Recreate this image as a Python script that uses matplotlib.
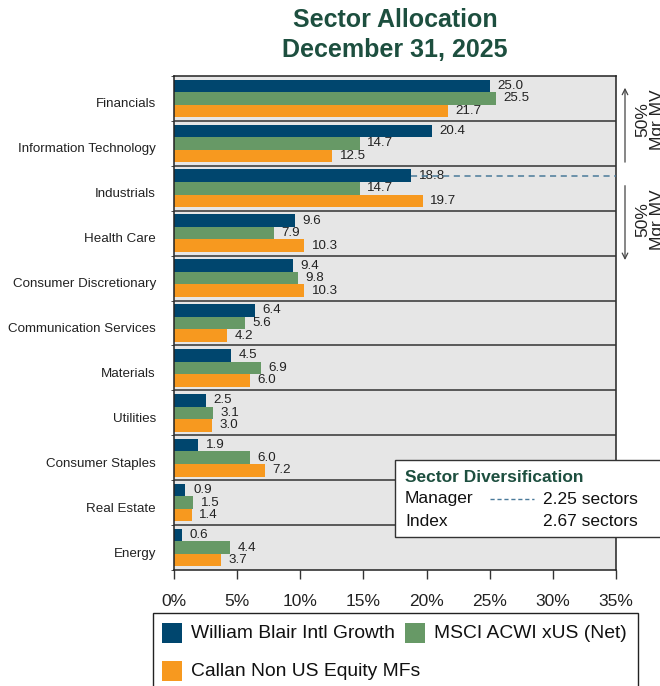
import matplotlib.pyplot as plt
import numpy as np
from matplotlib.patches import Rectangle
from matplotlib.lines import Line2D

sectors = ["Financials", "Information Technology", "Industrials", "Health Care",
           "Consumer Discretionary", "Communication Services", "Materials",
           "Utilities", "Consumer Staples", "Real Estate", "Energy"]
manager = [25.0, 20.4, 18.8, 9.6, 9.4, 6.4, 4.5, 2.5, 1.9, 0.9, 0.6]
index_vals = [25.5, 14.7, 14.7, 7.9, 9.8, 5.6, 6.9, 3.1, 6.0, 1.5, 4.4]
peer_group = [21.7, 12.5, 19.7, 10.3, 10.3, 4.2, 6.0, 3.0, 7.2, 1.4, 3.7]
series_names = ["William Blair Intl Growth", "MSCI ACWI xUS (Net)", "Callan Non US Equity MFs"]
x_ticks = [0, 5, 10, 15, 20, 25, 30, 35]
mgr_sectors = 2.25
idx_sectors = 2.67

navy = "#00466E"
green = "#679966"
orange = "#F7991F"
title_green = "#1D4F3F"

plt.rcParams["font.family"] = ["Liberation Sans", "DejaVu Sans"]

W, H = 660, 686


def fx(px):
    return px / W


def fy(py):
    return 1 - py / H


fig = plt.figure(figsize=(6.6, 6.86), dpi=100)
ax = fig.add_axes([fx(174), fy(570), 442 / W, 494 / H])
ax.set_facecolor("#E6E6E6")

y = np.arange(len(sectors))
h = 0.28
b1 = ax.barh(y - h, manager, height=h, color=navy, label=series_names[0])
b2 = ax.barh(y, index_vals, height=h, color=green, label=series_names[1])
b3 = ax.barh(y + h, peer_group, height=h, color=orange, label=series_names[2])
for bars in (b1, b2, b3):
    ax.bar_label(bars, fmt="%.1f", padding=5.5, fontsize=9.6, color="#222222")

# separators between sector groups
for yy in np.arange(0.5, len(sectors) - 0.5, 1):
    ax.axhline(yy, color="#333333", lw=1.1, zorder=3)

ax.set_ylim(len(sectors) - 0.5, -0.5)
ax.set_xlim(0, 35)
# labels sit a little below the group centre in the original
ax.set_yticks(y + 0.1)
ax.set_yticklabels(sectors, fontsize=9.6, color="#222222")
ax.set_yticks(np.arange(-0.5, len(sectors), 1), minor=True)
ax.tick_params(axis="y", which="major", length=0, pad=13)
ax.tick_params(axis="y", which="minor", length=2.5, direction="out", color="#333333")
ax.set_xticks(x_ticks)
ax.set_xticklabels([f"{t}%" for t in x_ticks], fontsize=12.5, color="#222222")
ax.tick_params(axis="x", length=6.5, width=1, color="#333333", pad=10.5)
for s in ax.spines.values():
    s.set_color("#222222")
    s.set_linewidth(1.1)

# manager 50% line
ind = sectors.index("Industrials")
ax.plot([manager[ind], 35], [ind - h, ind - h], ls=(0, (4, 3)), color="#4A7A9A", lw=1.1, zorder=4)

# arrows on the right
tr = ax.get_yaxis_transform()
xa = (625 - 174) / 442
ax.annotate("", xy=(xa, -0.30), xytext=(xa, 1.48), xycoords=tr, textcoords=tr,
            arrowprops=dict(arrowstyle="->", color="#444444", lw=0.9), annotation_clip=False)
ax.annotate("", xy=(xa, 3.66), xytext=(xa, 1.88), xycoords=tr, textcoords=tr,
            arrowprops=dict(arrowstyle="->", color="#444444", lw=0.9), annotation_clip=False)
fig.text(fx(650), fy(120), "50%\nMgr MV", rotation=90, ha="center", va="center",
         fontsize=12.5, color="#222222", linespacing=1.0)
fig.text(fx(650), fy(220), "50%\nMgr MV", rotation=90, ha="center", va="center",
         fontsize=12.5, color="#222222", linespacing=1.0)

# title
fig.text(fx(395), fy(35), "Sector Allocation\nDecember 31, 2025", ha="center", va="center",
         fontsize=18, fontweight="bold", color=title_green, linespacing=1.3)

# sector diversification box
fig.patches.append(Rectangle((fx(395), fy(537)), 280 / W, 77 / H,
                             transform=fig.transFigure, facecolor="white",
                             edgecolor="#333333", lw=1.0, zorder=5))
fig.text(fx(405), fy(477), "Sector Diversification", fontsize=12.5, fontweight="bold",
         color=title_green, va="center", zorder=6)
fig.text(fx(405), fy(499), "Manager", fontsize=12.5, color="#111111", va="center", zorder=6)
fig.text(fx(405), fy(522), "Index", fontsize=12.5, color="#111111", va="center", zorder=6)
fig.text(fx(543), fy(499), f"{mgr_sectors:.2f} sectors", fontsize=12.5, color="#111111",
         va="center", zorder=6)
fig.text(fx(543), fy(522), f"{idx_sectors:.2f} sectors", fontsize=12.5, color="#111111",
         va="center", zorder=6)
fig.lines.append(Line2D([fx(490), fx(534)], [fy(499), fy(499)],
                        transform=fig.transFigure, ls=(0, (3, 2)), color="#4A7A9A", lw=1.0, zorder=6))

# legend drawn by hand: the original flows entries rather than using a grid
fig.patches.append(Rectangle((fx(153), fy(700)), 485 / W, 87 / H, transform=fig.transFigure,
                             facecolor="white", edgecolor="#222222", lw=1.0))
legend_slots = [(b1, series_names[0], 162, 633), (b2, series_names[1], 405, 633),
                (b3, series_names[2], 162, 671)]
for bars, name, px, py in legend_slots:
    fig.patches.append(Rectangle((fx(px), fy(py + 10)), 20 / W, 20 / H, transform=fig.transFigure,
                                 facecolor=bars.patches[0].get_facecolor(), edgecolor="none"))
    fig.text(fx(px + 29), fy(py), name, fontsize=13.9, color="#111111", va="center")

fig.savefig("out.png", dpi=100)
